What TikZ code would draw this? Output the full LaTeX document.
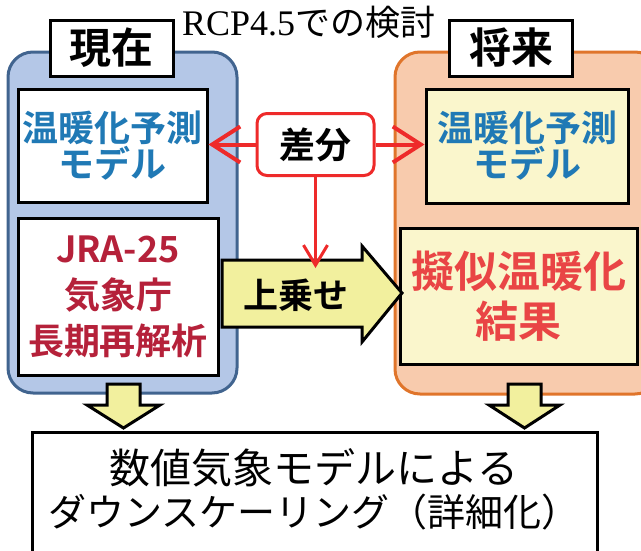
\documentclass[tikz,border=0pt]{standalone}
\usepackage{fontspec}
\setmainfont{Noto Sans CJK JP}[BoldFont={Noto Sans CJK JP Bold}]
\newfontfamily\serifrm{Liberation Serif}
\usetikzlibrary{arrows.meta}
\definecolor{bluefill}{HTML}{B4C7E7}
\definecolor{blueline}{HTML}{41648F}
\definecolor{orangefill}{HTML}{F8CBAD}
\definecolor{orangeline}{HTML}{E0752B}
\definecolor{lightyel}{HTML}{FAF6CC}
\definecolor{arrowyel}{HTML}{F2F09E}
\definecolor{txtblue}{HTML}{2079B5}
\definecolor{darkred}{HTML}{B5213A}
\definecolor{brightred}{HTML}{E94545}
\definecolor{arrowred}{HTML}{EE2A2A}
\begin{document}
\begin{tikzpicture}[x=1pt,y=-1pt,
  container/.style={rounded corners=25pt, line width=3pt},
  inbox/.style={draw=black, line width=3pt, inner sep=0pt, align=center},
  labelbox/.style={draw=black, fill=white, line width=3pt, inner sep=0pt,
    minimum width=123pt, minimum height=56pt, font=\bfseries\fontsize{42}{42}\selectfont},
  blockarrow/.style={draw=black, fill=arrowyel, line width=3pt, line join=miter},
  redarrow/.style={draw=arrowred, line width=4pt, -{Straight Barb[length=28pt,width=36pt]}},
  redarrowsmall/.style={draw=arrowred, line width=3pt, -{Straight Barb[length=20pt,width=24pt]}}
]
\useasboundingbox (0,0) rectangle (641,550);
% containers
\draw[container, draw=blueline, fill=bluefill] (8,52) rectangle (237,393);
\draw[container, draw=orangeline, fill=orangefill] (395,52) rectangle (660,394);
% labels
\node[labelbox] (now) at (111.5,48) {現在};
\node[labelbox] (fut) at (511,48) {将来};
\node[anchor=base west, inner sep=0pt, font=\fontsize{35}{35}\selectfont] (title) at (182,35) {{\serifrm\fontsize{36}{36}\selectfont RCP4.5}での検討};
% inner boxes
\node[inbox, fill=white, minimum width=189pt, minimum height=113pt,
  text=txtblue, font=\bfseries\fontsize{36}{36}\selectfont] (lm) at (112.5,145.5) {温暖化予測\\モデル};
\node[inbox, fill=white, minimum width=200pt, minimum height=157pt,
  text=darkred, font=\bfseries\fontsize{36}{46}\selectfont] (lr) at (118,296.5) {JRA-25\\気象庁\\長期再解析};
\node[inbox, fill=lightyel, minimum width=202pt, minimum height=114pt,
  text=txtblue, font=\bfseries\fontsize{36}{36}\selectfont] (rm) at (527,146) {温暖化予測\\モデル};
\node[inbox, fill=lightyel, minimum width=237pt, minimum height=136pt,
  text=brightred, font=\bfseries\fontsize{43}{50}\selectfont] (rr) at (518.5,296) {擬似温暖化\\結果};
% block arrow
\draw[blockarrow] (222,260) -- (362,260) -- (362,246) -- (402,293) -- (362,342) -- (362,327) -- (222,327) -- cycle;
\node[font=\bfseries\fontsize{35}{35}\selectfont, inner sep=0pt] (ue) at (296,295) {上乗せ};
% diff
\node[draw=arrowred, fill=white, line width=3pt, rounded corners=10pt, minimum width=117pt, minimum height=62pt,
  inner sep=0pt, font=\bfseries\fontsize{36}{36}\selectfont] (diff) at (315.5,144.5) {差分};
\coordinate (jt) at (315.5,268);
\draw[redarrow] (diff.west) -- (diff.west -| lm.east);
\draw[redarrow] (diff.east) -- (diff.east -| rm.west);
\draw[redarrowsmall] (diff.south) -- (jt);
% down arrows
\draw[blockarrow] (107,384) -- (140,384) -- (140,405) -- (160,405) -- (123.5,428) -- (87,405) -- (107,405) -- cycle;
\draw[blockarrow] (508,384) -- (541,384) -- (541,405) -- (560,405) -- (524.5,428) -- (489,405) -- (508,405) -- cycle;
% bottom box
\node[draw=black, fill=white, line width=3pt, minimum width=565pt, minimum height=130pt, inner sep=0pt] (bot) at (314.5,497) {};
\node[align=center, inner sep=0pt, font=\fontsize{39}{43}\selectfont] (bott) at (314,489) {{\fontsize{41}{43}\selectfont 数値気象モデルによる}\\{\fontsize{38}{43}\selectfont ダウンスケーリング（詳細化）}};
\end{tikzpicture}
\end{document}
